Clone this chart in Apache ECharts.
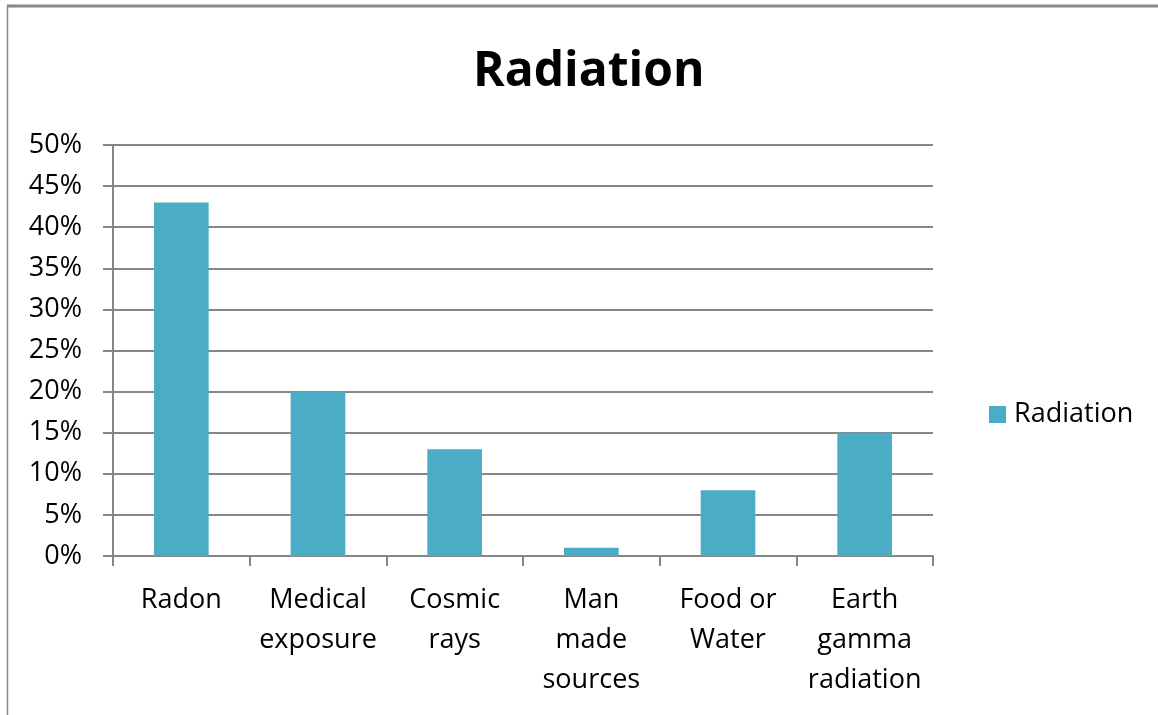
<!DOCTYPE html>
<html>
<head>
<meta charset="utf-8">
<script src="https://cdn.jsdelivr.net/npm/echarts@6/dist/echarts.min.js"></script>
<style>
html,body{margin:0;padding:0;background:#fff;}
#chart{width:1158px;height:715px;}
</style>
</head>
<body>
<div id="chart"></div>
<script>
const title = 'Radiation';
const seriesName = 'Radiation';
const categories = ['Radon', 'Medical\nexposure', 'Cosmic\nrays', 'Man\nmade\nsources', 'Food or\nWater', 'Earth\ngamma\nradiation'];
const values = [43, 20, 13, 1, 8, 15];
const yMin = 0, yMax = 50, yStep = 5;

const FONT = '"Open Sans", sans-serif';
const AXIS = '#868686';
const chart = echarts.init(document.getElementById('chart'), null, {renderer: 'canvas'});
chart.setOption({
  animation: false,
  backgroundColor: '#fff',
  textStyle: {fontFamily: FONT},
  title: {
    text: title, left: 468, top: 43,
    textStyle: {fontFamily: FONT, fontSize: 48, fontWeight: 'bold', color: '#000'}
  },
  grid: {left: 113, right: 225, top: 145, bottom: 159, containLabel: false},
  legend: {
    orient: 'vertical', left: 984, top: 396,
    itemWidth: 17, itemHeight: 17, icon: 'rect',
    textStyle: {fontFamily: FONT, fontSize: 27, color: '#000', padding: [0, 0, 0, 3]},
    data: [seriesName]
  },
  xAxis: {
    type: 'category', data: categories,
    axisLine: {lineStyle: {color: AXIS, width: 2}},
    axisTick: {show: true, length: 10, lineStyle: {color: AXIS, width: 2}, alignWithLabel: false},
    axisLabel: {fontFamily: FONT, fontSize: 27, color: '#000', lineHeight: 40, margin: 24, interval: 0}
  },
  yAxis: {
    type: 'value', min: yMin, max: yMax, interval: yStep,
    axisLine: {show: true, lineStyle: {color: AXIS, width: 2}},
    axisTick: {show: true, length: 10, lineStyle: {color: AXIS, width: 2}},
    splitLine: {show: true, lineStyle: {color: AXIS, width: 2}},
    axisLabel: {fontFamily: FONT, fontSize: 27, color: '#000', margin: 31, formatter: '{value}%'}
  },
  series: [{
    name: seriesName, type: 'bar', data: values,
    barCategoryGap: '60%',
    itemStyle: {color: '#4BACC6'}
  }],
  graphic: [
    {type: 'line', shape: {x1: 7, y1: 6, x2: 1158, y2: 6}, style: {stroke: '#878787', lineWidth: 3}, silent: true},
    {type: 'line', shape: {x1: 7.5, y1: 6, x2: 7.5, y2: 715}, style: {stroke: '#878787', lineWidth: 1.5}, silent: true}
  ]
});
</script>
</body>
</html>
